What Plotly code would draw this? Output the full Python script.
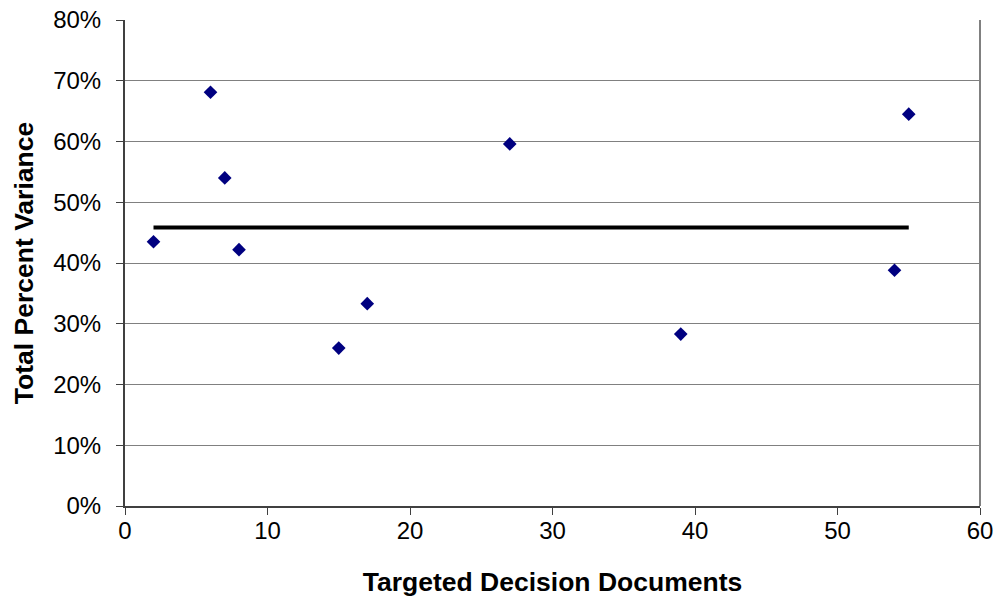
import plotly.graph_objects as go

# Targeted decision documents vs. total percent variance
documents = [2, 6, 7, 8, 15, 17, 27, 39, 54, 55]
variance = [0.435, 0.681, 0.540, 0.422, 0.260, 0.333, 0.596, 0.283, 0.388, 0.645]

x_ticks = [0, 10, 20, 30, 40, 50, 60]
y_ticks = [0, 0.1, 0.2, 0.3, 0.4, 0.5, 0.6, 0.7, 0.8]
y_tick_labels = ["0%", "10%", "20%", "30%", "40%", "50%", "60%", "70%", "80%"]

mean_variance = sum(variance) / len(variance)

FONT = "Liberation Sans, Arial, sans-serif"

fig = go.Figure()

# Average line across the observed document range
fig.add_trace(go.Scatter(
    x=[min(documents), max(documents)],
    y=[mean_variance, mean_variance],
    mode="lines",
    line=dict(color="#000000", width=4),
    hoverinfo="skip",
))

fig.add_trace(go.Scatter(
    x=documents,
    y=variance,
    mode="markers",
    marker=dict(symbol="diamond", size=10.5, color="#000080",
                line=dict(width=0)),
))

fig.update_layout(
    width=1007,
    height=606,
    margin=dict(l=125, r=27, t=20, b=100, autoexpand=False),
    paper_bgcolor="white",
    plot_bgcolor="white",
    showlegend=False,
    font=dict(family=FONT, size=24, color="#000000"),
    xaxis=dict(
        range=[0, 60],
        tickvals=x_ticks,
        ticktext=[str(v) for v in x_ticks],
        showgrid=False,
        zeroline=False,
        showline=True,
        linecolor="#404040",
        linewidth=2,
        ticks="outside",
        ticklen=7,
        tickwidth=1,
        tickcolor="#404040",
        tickfont=dict(size=24),
        ticklabelstandoff=-5,
        automargin=False,
        title=dict(text="<b>Targeted Decision Documents</b>",
                   font=dict(size=26.5), standoff=30),
    ),
    yaxis=dict(
        range=[0, 0.8],
        tickvals=y_ticks,
        ticktext=y_tick_labels,
        showgrid=True,
        gridcolor="#808080",
        gridwidth=1,
        zeroline=False,
        showline=True,
        linecolor="#404040",
        linewidth=2,
        ticks="outside",
        ticklen=7,
        tickwidth=1,
        tickcolor="#404040",
        tickfont=dict(size=24),
        ticklabelstandoff=10,
        automargin=False,
        title=dict(text="<b>Total Percent Variance</b>",
                   font=dict(size=26.5), standoff=12),
    ),
    shapes=[
        # right-hand border of the plot area
        dict(type="line", xref="paper", yref="paper", x0=1, x1=1, y0=0, y1=1,
             line=dict(color="#808080", width=2)),
    ],
)

fig.write_html("out.html")
